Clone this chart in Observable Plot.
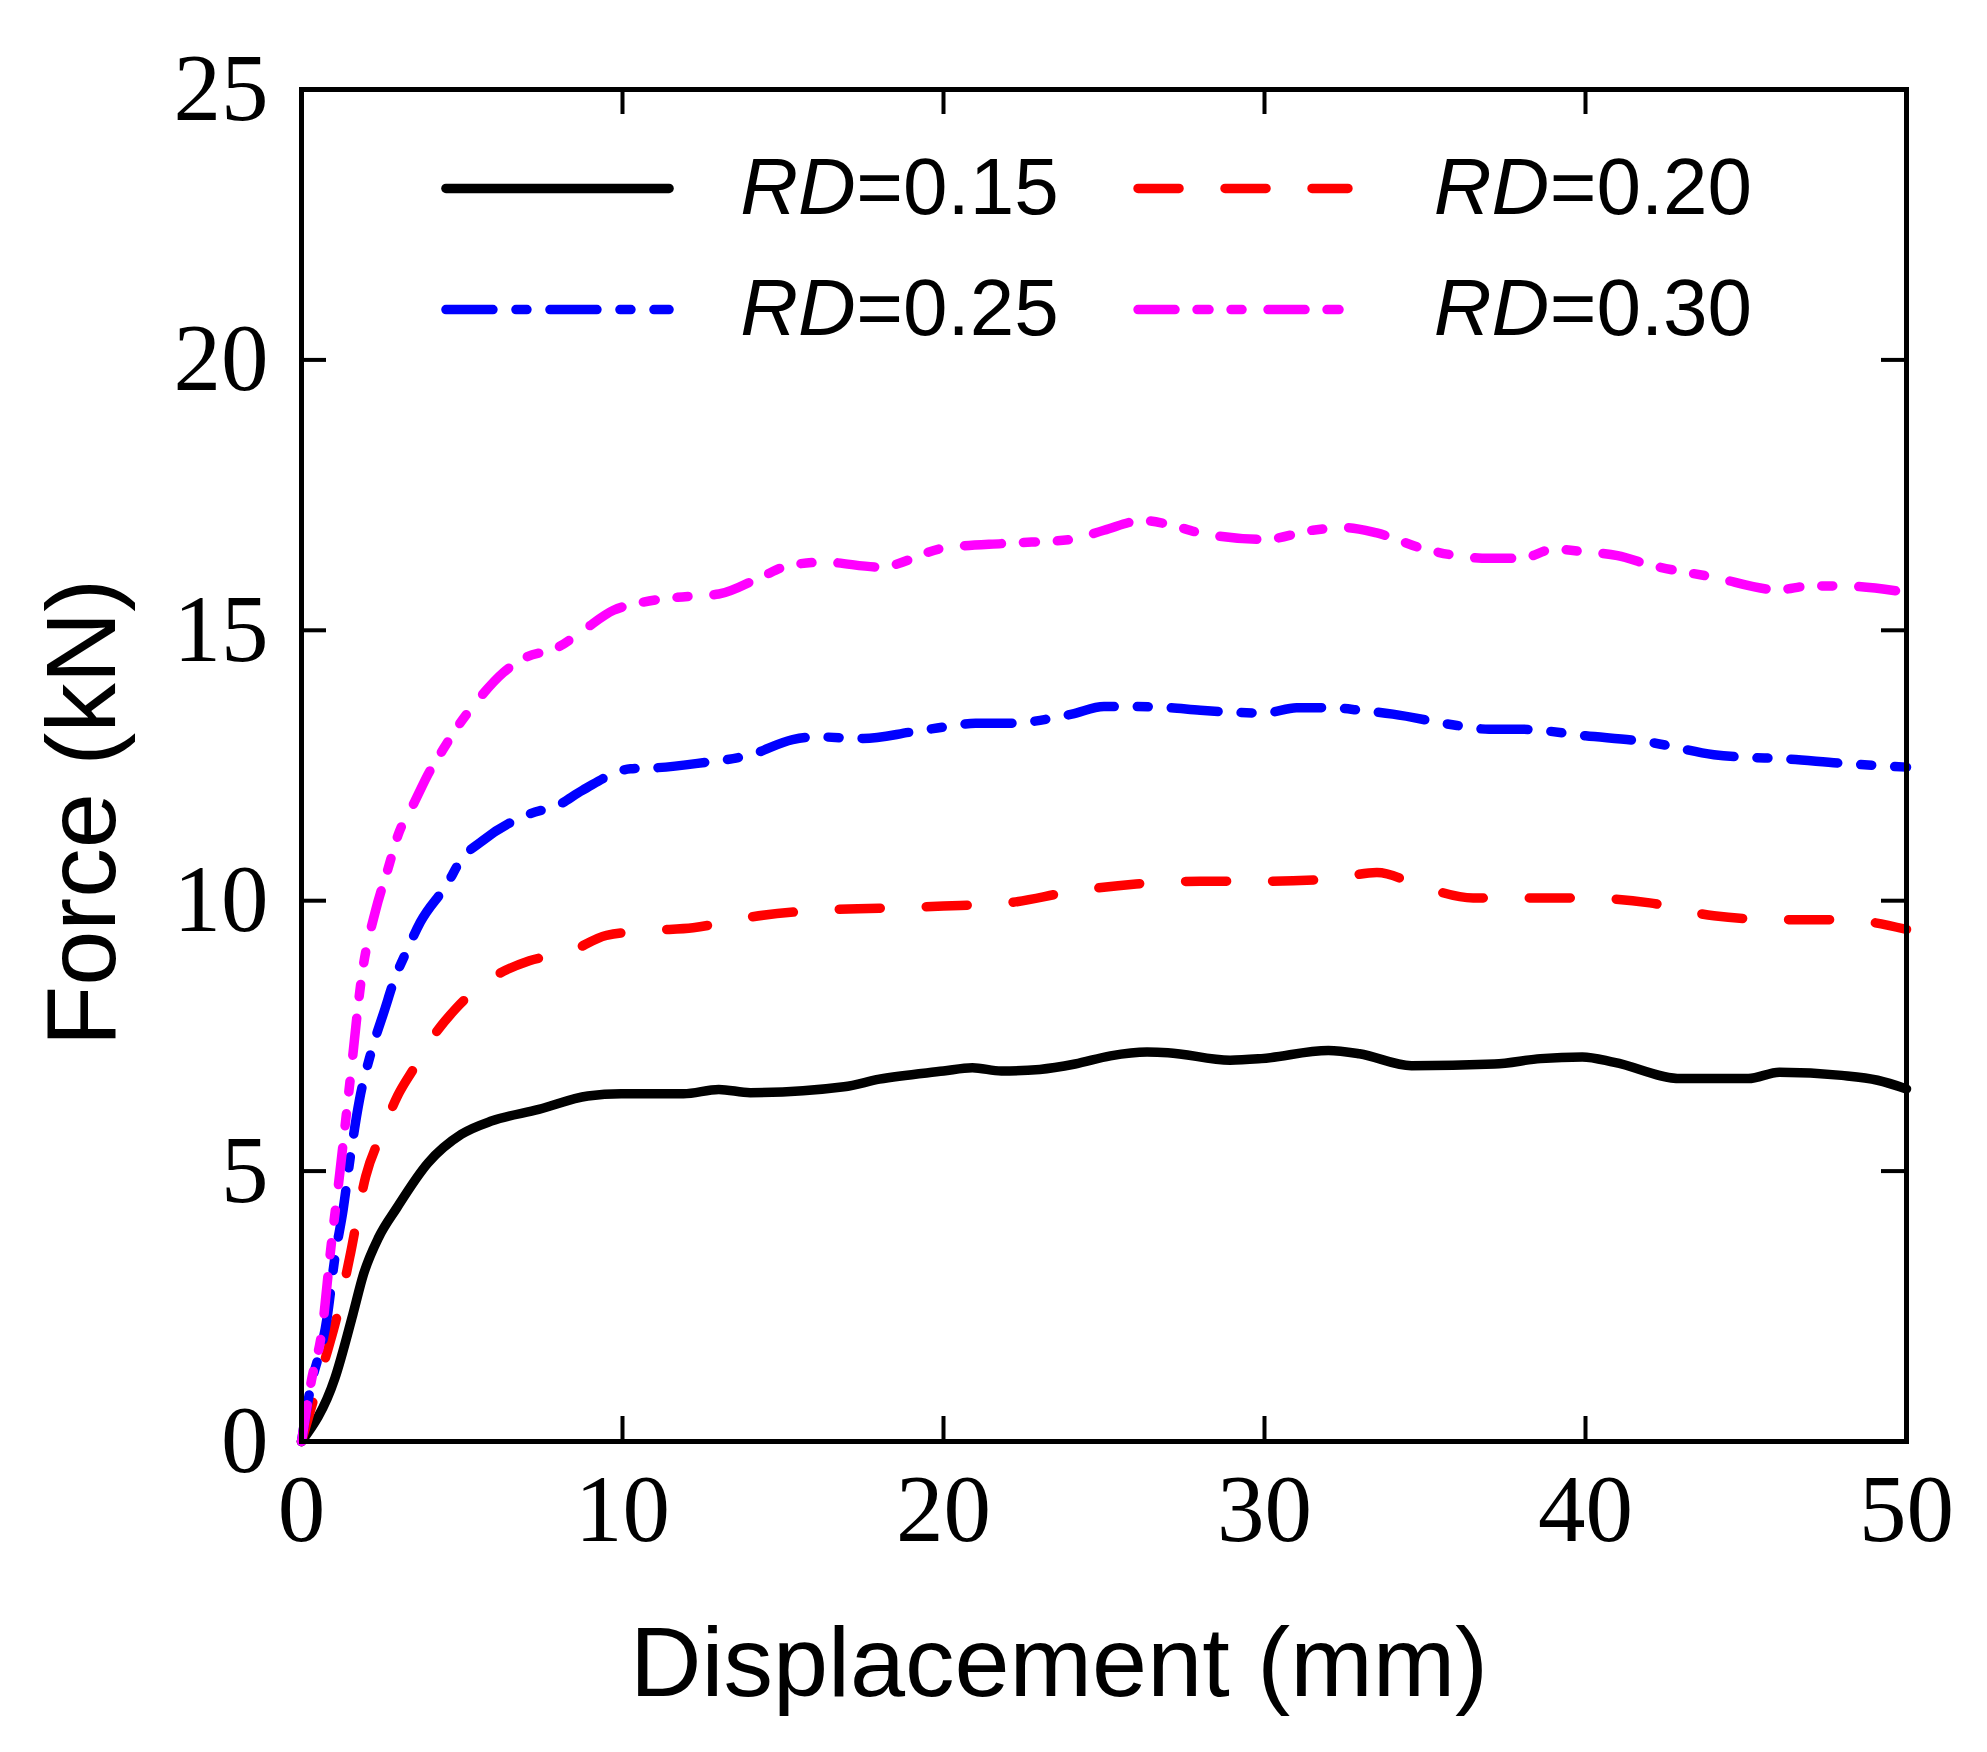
<!DOCTYPE html>
<html>
<head>
<meta charset="utf-8">
<script src="https://cdn.jsdelivr.net/npm/d3@7"></script>
<script src="https://cdn.jsdelivr.net/npm/@observablehq/plot@0.6"></script>
<style>
  body { margin: 0; background: #fff; }
</style>
</head>
<body>
<div id="chart"></div>
<script>
// values (displacement mm, force kN)
const x015 = [0, 1.04, 1.6, 1.93, 2.4, 2.97, 3.94, 4.98, 5.94, 7.39, 8.92, 9.96, 11.9, 13.0, 13.98, 16.9, 18.0, 20.0, 20.9, 21.8, 23.0, 24.1, 25.2, 26.34, 26.99, 28.93, 29.9, 31.99, 32.96, 34.58, 37.16, 38.6, 39.9, 40.9, 42.97, 45.07, 46.04, 47.98, 49.1, 50]
const y015 = [0, 1.17, 2.35, 3.09, 3.77, 4.32, 5.15, 5.68, 5.93, 6.14, 6.39, 6.43, 6.43, 6.51, 6.45, 6.56, 6.70, 6.85, 6.91, 6.85, 6.88, 6.98, 7.13, 7.20, 7.19, 7.05, 7.08, 7.23, 7.17, 6.95, 6.98, 7.08, 7.11, 7.01, 6.71, 6.71, 6.83, 6.77, 6.68, 6.52]

const x020 = [0, 0.7, 1.1, 1.5, 2.0, 2.5, 3.0, 3.5, 4.0, 4.8, 5.8, 7.1, 8.3, 9.5, 10.9, 12.2, 14, 16, 18, 20, 22, 24, 26, 28, 30, 32, 33.5, 35, 36.5, 38, 40, 42, 44, 46, 48, 50]
const y020 = [0, 1.45, 2.3, 3.4, 4.9, 5.7, 6.4, 6.9, 7.4, 8.0, 8.52, 8.89, 9.04, 9.36, 9.45, 9.5, 9.7, 9.82, 9.86, 9.9, 9.96, 10.17, 10.31, 10.36, 10.36, 10.4, 10.52, 10.24, 10.05, 10.05, 10.05, 9.96, 9.72, 9.65, 9.65, 9.47]

const x025 = [0, 0.25, 0.8, 1.04, 1.3, 1.53, 1.8, 2.17, 2.6, 2.87, 3.3, 3.7, 4.55, 4.95, 5.64, 7.13, 7.97, 8.75, 10.25, 11.09, 12.34, 14, 15.3, 16, 17.5, 19, 20, 21, 22, 24, 25, 26, 27, 28, 30, 31, 32, 33, 34, 36, 37, 38, 40, 42, 44, 45, 46, 48, 50]
const y025 = [0, 0.9, 2.3, 3.4, 4.3, 5.3, 6.3, 7.2, 8.0, 8.5, 9.1, 9.6, 10.32, 10.74, 11.11, 11.61, 11.76, 12.04, 12.44, 12.46, 12.54, 12.7, 12.98, 13.03, 13.0, 13.12, 13.21, 13.28, 13.28, 13.45, 13.59, 13.59, 13.57, 13.52, 13.47, 13.57, 13.57, 13.52, 13.45, 13.24, 13.17, 13.17, 13.05, 12.93, 12.7, 12.65, 12.63, 12.54, 12.47]

const x030 = [0, 0.3, 0.65, 0.9, 1.2, 1.5, 1.9, 2.3, 2.7, 3.0, 3.5, 4.0, 4.33, 4.89, 5.48, 6.29, 6.92, 7.97, 8.78, 9.72, 10.56, 11.71, 13, 14.3, 15.2, 16.3, 18, 20, 22, 24, 25, 26.2, 27, 28, 30, 31.5, 32.5, 33.5, 35, 37, 38, 39, 40, 41, 42, 44, 46, 47, 48, 50]
const y030 = [0, 1.1, 2.1, 3.5, 5.0, 6.6, 8.7, 9.8, 10.6, 11.2, 11.8, 12.4, 12.72, 13.24, 13.7, 14.22, 14.48, 14.68, 15.0, 15.37, 15.51, 15.61, 15.67, 15.98, 16.2, 16.26, 16.17, 16.52, 16.61, 16.68, 16.85, 17.03, 16.96, 16.8, 16.68, 16.85, 16.9, 16.8, 16.5, 16.33, 16.33, 16.5, 16.45, 16.38, 16.21, 15.98, 15.75, 15.82, 15.82, 15.7]

const rdValues = ["0.15", "0.20", "0.25", "0.30"]
const xTicks = [0, 10, 20, 30, 40, 50]
const yTicks = [0, 5, 10, 15, 20, 25]

// styling
const W = 1987, H = 1752
const mL = 301, mR = 81, mT = 89, mB = 311
const innerW = W - mL - mR, innerH = H - mT - mB
const styles = [
  {stroke: "#000000", dash: null},
  {stroke: "#ff0000", dash: "41,46"},
  {stroke: "#0000ff", dash: "47,23,11,23"},
  {stroke: "#ff00ff", dash: "37,22,12,22,11,26"}
]
// legend placement (data units): [lineStart, lineEnd, textStart, y]
const legendPos = [[4.5, 11.45, 13.67, 23.17], [26.06, 32.6, 35.27, 23.17], [4.5, 11.45, 13.67, 20.93], [26.06, 32.6, 35.27, 20.93]]

const series = [[x015, y015], [x020, y020], [x025, y025], [x030, y030]].map(([xs, ys], i) =>
  xs.map((x, j) => ({x, y: ys[j], rd: rdValues[i]})))

const legend = rdValues.map((rd, i) => ({rd, x1: legendPos[i][0], x2: legendPos[i][1], tx: legendPos[i][2], y: legendPos[i][3]}))

const sans = "Arial, 'Liberation Sans', sans-serif"
const tickLen = 25

const marks = []
series.forEach((data, i) => {
  marks.push(Plot.line(data, {x: "x", y: "y", stroke: styles[i].stroke, strokeWidth: 9.5,
    strokeDasharray: styles[i].dash, strokeLinecap: "round", strokeLinejoin: "round", curve: "monotone-x"}))
  marks.push(Plot.link([legend[i]], {x1: "x1", x2: "x2", y1: "y", y2: "y", stroke: styles[i].stroke, strokeWidth: 9.5,
    strokeDasharray: styles[i].dash, strokeLinecap: "round"}))
})
marks.push(
  Plot.text(legend, {x: "tx", y: "y", text: () => "RD", textAnchor: "start", fontStyle: "italic",
    fontFamily: sans, fontSize: 80, fill: "#000"}),
  Plot.text(legend, {x: "tx", y: "y", text: d => "=" + d.rd, textAnchor: "start", dx: 116,
    fontFamily: sans, fontSize: 80, fill: "#000"}),
  // inward ticks on all four sides
  Plot.ruleX(xTicks.slice(1, -1), {x: d => d, insetTop: innerH - tickLen, stroke: "#000", strokeWidth: 4}),
  Plot.ruleX(xTicks.slice(1, -1), {x: d => d, insetBottom: innerH - tickLen, stroke: "#000", strokeWidth: 4}),
  Plot.ruleY(yTicks.slice(1, -1), {y: d => d, insetRight: innerW - tickLen, stroke: "#000", strokeWidth: 4}),
  Plot.ruleY(yTicks.slice(1, -1), {y: d => d, insetLeft: innerW - tickLen, stroke: "#000", strokeWidth: 4}),
  Plot.axisX({ticks: xTicks, tickSize: 0, tickPadding: 32, label: null}),
  Plot.axisY({ticks: yTicks, tickSize: 0, tickPadding: 33, label: null}),
  Plot.frame({stroke: "#000", strokeWidth: 5}),
  Plot.text(["Displacement (mm)"], {frameAnchor: "bottom", dx: -45, dy: 254, fontFamily: sans, fontSize: 99, fill: "#000"}),
  Plot.text(["Force (kN)"], {frameAnchor: "left", textAnchor: "middle", lineAnchor: "middle", dx: -218, dy: 47, rotate: -90,
    fontFamily: sans, fontSize: 99, fill: "#000"})
)

const chart = Plot.plot({
  width: W,
  height: H,
  marginLeft: mL,
  marginRight: mR,
  marginTop: mT,
  marginBottom: mB,
  x: {domain: [0, 50]},
  y: {domain: [0, 25]},
  style: {fontFamily: "'Liberation Serif', 'Times New Roman', serif", fontSize: "95px", color: "#000", background: "#fff", overflow: "visible"},
  marks
})

d3.select("#chart").append(() => chart)
</script>
</body>
</html>
